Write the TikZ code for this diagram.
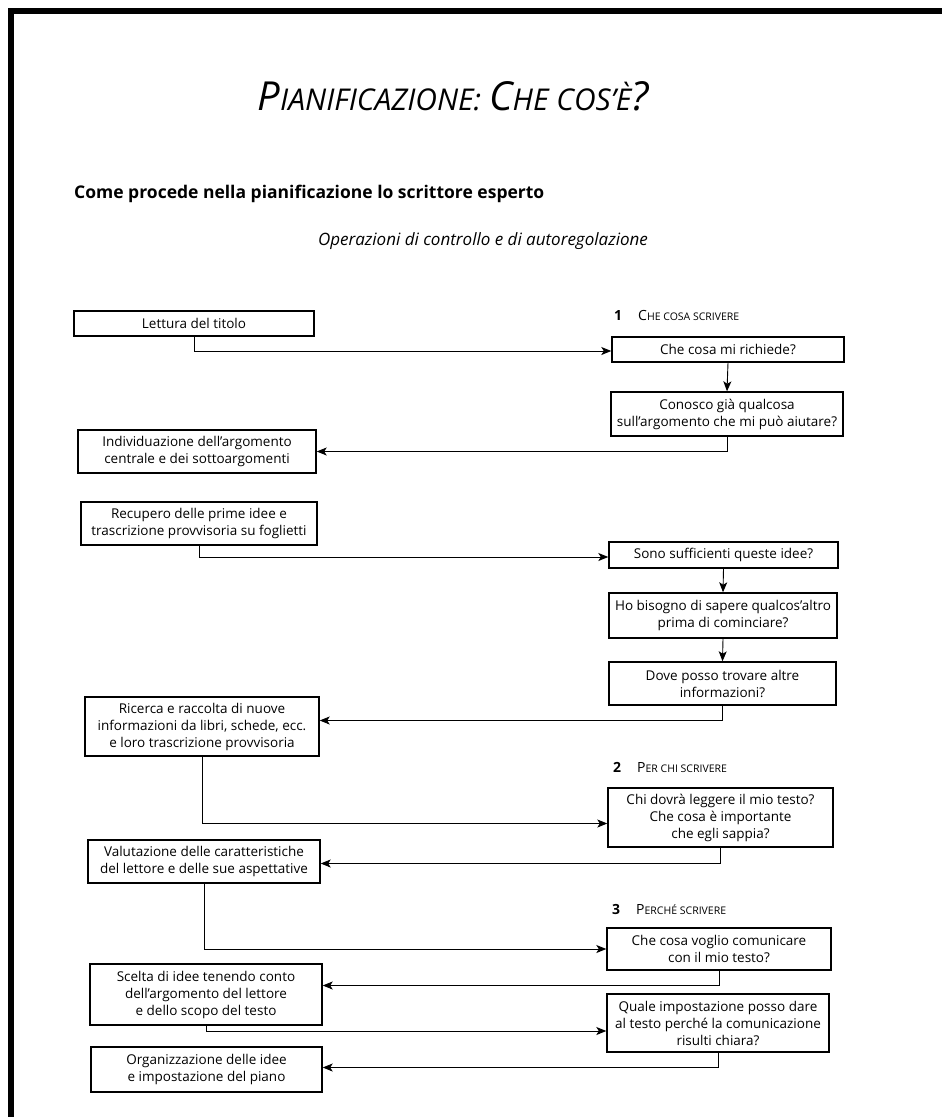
\documentclass[tikz,border=0pt]{standalone}
\usepackage{fontspec}
\setmainfont{Open Sans}
\usetikzlibrary{arrows.meta}

% body text of the boxes
\newcommand\bodyfont{\fontsize{13.5}{17}\selectfont}
% hand-made small capitals: large initial, small remainder
\newcommand\tbig[1]{{\fontsize{40}{40}\selectfont #1}}
\newcommand\tsmall[1]{{\fontsize{30}{30}\selectfont #1}}
\newcommand\hbig[1]{{\fontsize{14}{14}\selectfont #1}}
\newcommand\hsmall[1]{{\fontsize{10.5}{10.5}\selectfont #1}}

\tikzset{
  x=1pt, y=-1pt,
  box/.style={draw, line width=1.4pt, align=center, inner sep=0pt, font=\bodyfont},
  link/.style={line width=0.9pt, -{Stealth[length=10pt,width=8pt,inset=2.5pt]}},
  section/.style={anchor=base west, inner sep=0pt},
}

\begin{document}
\begin{tikzpicture}
\useasboundingbox (0,0) rectangle (942,1117);
% page frame
\fill (8,8) rectangle (942,14);
\fill (8,8) rectangle (14,1117);

% headings
\node[anchor=base, inner sep=0pt] (title) at (453,110)
  {\itshape\tbig{P}\tsmall{IANIFICAZIONE:}\hspace{8pt}\tbig{C}\tsmall{HE COS'È}\tbig{?}};
\node[anchor=base west, inner sep=0pt, font=\fontsize{17.5}{20}\selectfont\bfseries] (sub) at (74,198)
  {Come procede nella pianificazione lo scrittore esperto};
\node[anchor=base, inner sep=0pt, font=\fontsize{17}{20}\selectfont\itshape] (ops) at (483,245)
  {Operazioni di controllo e di autoregolazione};

% section labels
\node[section] (sec1) at (614,320) {\hbig{\bfseries 1}\hspace{16pt}\hbig{C}\hsmall{HE COSA SCRIVERE}};
\node[section] (sec2) at (613,772) {\hbig{\bfseries 2}\hspace{16pt}\hbig{P}\hsmall{ER CHI SCRIVERE}};
\node[section] (sec3) at (612,914) {\hbig{\bfseries 3}\hspace{16pt}\hbig{P}\hsmall{ERCHÉ SCRIVERE}};

% left column: what the writer does
\node[box, minimum width=240pt, minimum height=25pt] (lettura) at (194,323.5) {Lettura del titolo};
\node[box, minimum width=238pt, minimum height=43pt] (individ) at (197,451.5)
  {Individuazione dell'argomento\\centrale e dei sottoargomenti};
\node[box, minimum width=236pt, minimum height=43pt] (recupero) at (199,523.5)
  {Recupero delle prime idee e\\trascrizione provvisoria su foglietti};
\node[box, minimum width=234pt, minimum height=59pt] (ricerca) at (202,726.5)
  {Ricerca e raccolta di nuove\\informazioni da libri, schede, ecc.\\e loro trascrizione provvisoria};
\node[box, minimum width=232pt, minimum height=43pt] (valuta) at (204,861.5)
  {Valutazione delle caratteristiche\\del lettore e delle sue aspettative};
\node[box, minimum width=232pt, minimum height=61pt] (scelta) at (206,994.5)
  {Scelta di idee tenendo conto\\dell'argomento del lettore\\e dello scopo del testo};
\node[box, minimum width=231pt, minimum height=45pt] (organ) at (206.5,1069.5)
  {Organizzazione delle idee\\e impostazione del piano};

% right column: the questions
\node[box, minimum width=232pt, minimum height=25pt] (richiede) at (728,349.5) {Che cosa mi richiede?};
\node[box, minimum width=232pt, minimum height=44pt] (conosco) at (727,414)
  {Conosco già qualcosa\\sull'argomento che mi può aiutare?};
\node[box, minimum width=229pt, minimum height=26pt] (suff) at (723.5,555) {Sono sufficienti queste idee?};
\node[box, minimum width=228pt, minimum height=45pt] (bisogno) at (723,615.5)
  {Ho bisogno di sapere qualcos'altro\\prima di cominciare?};
\node[box, minimum width=227pt, minimum height=43pt] (dove) at (722.5,683.5)
  {Dove posso trovare altre\\informazioni?};
\node[box, minimum width=225pt, minimum height=59pt] (chi) at (720.5,817.5)
  {Chi dovrà leggere il mio testo?\\Che cosa è importante\\che egli sappia?};
\node[box, minimum width=224pt, minimum height=42pt] (voglio) at (719,949)
  {Che cosa voglio comunicare\\con il mio testo?};
\node[box, minimum width=222pt, minimum height=58pt] (quale) at (718,1023)
  {Quale impostazione posso dare\\al testo perché la comunicazione\\risulti chiara?};

% connectors
\draw[link] (lettura.south) |- ([yshift=-1.5pt]richiede.west);
\draw[link] (richiede.south) -- (conosco.north);
\draw[link] (conosco.south) |- (individ.east);
\draw[link] (recupero.south) |- ([yshift=-2pt]suff.west);
\draw[link] (suff.south) -- (bisogno.north);
\draw[link] (bisogno.south) -- (dove.north);
\draw[link] (dove.south) |- ([yshift=6pt]ricerca.east);
\draw[link] (ricerca.south) |- ([yshift=-6pt]chi.west);
\draw[link] (chi.south) |- ([yshift=-2pt]valuta.east);
\draw[link] (valuta.south) |- (voglio.west);
\draw[link] (voglio.south) |- ([yshift=9pt]scelta.east);
\draw[link] (scelta.south) |- ([yshift=-8pt]quale.west);
\draw[link] (quale.south) |- ([yshift=2pt]organ.east);
\end{tikzpicture}
\end{document}
